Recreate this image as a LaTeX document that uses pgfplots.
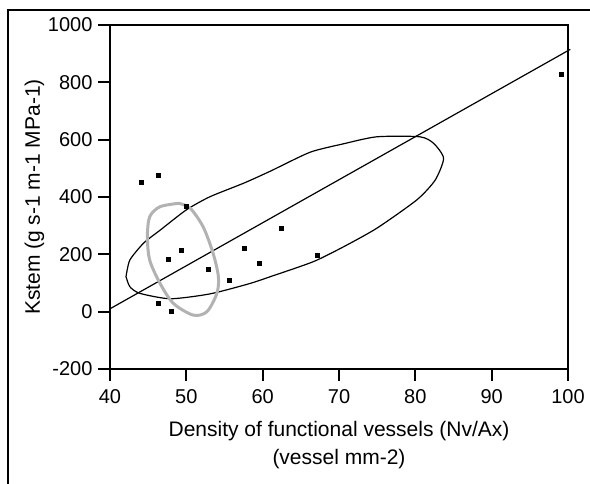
\documentclass[border=0pt]{standalone}
\usepackage{pgfplots}
\pgfplotsset{compat=1.18}
\usepackage{fontspec}
\setmainfont{Liberation Sans}

\begin{document}
\begin{tikzpicture}[x=1bp,y=1bp]
\path[use as bounding box] (0,0) rectangle (590,484);
% outer frame (only left and top are inside the picture)
\draw[line width=2bp] (8,-5) -- (8,474) -- (590,474);
\begin{axis}[
  at={(110bp,115bp)}, anchor=south west,
  scale only axis, width=458bp, height=344bp,
  xmin=40, xmax=100, ymin=-200, ymax=1000,
  xtick={40,50,...,100}, ytick={-200,0,...,1000},
  tick pos=left, tick align=outside,
  major tick length=12bp,
  axis line style={line width=2bp},
  every tick/.style={black, line width=2bp},
  /pgf/number format/assume math mode=true,
  /pgf/number format/1000 sep={},
  tick label style={font=\fontsize{20bp}{23bp}\selectfont},
  xticklabel style={yshift=-5bp},
  yticklabel style={xshift=-2bp},
  label style={font=\fontsize{21bp}{28bp}\selectfont},
  xlabel={Density of functional vessels (Nv/Ax)\\(vessel mm-2)},
  xlabel style={align=center, yshift=-11bp},
  ylabel={Kstem (g s-1 m-1 MPa-1)},
  ylabel style={yshift=-3bp},
  clip=false,
]
% confidence ellipse
\addplot[black, line width=1.2bp, smooth, tension=0.4] coordinates {
  (42.1,122) (42.6,180) (44.4,239) (46.6,285) (50.0,355) (53.1,401)
  (57.5,448) (61.0,490) (66.2,556) (70.5,585) (74.95,610) (80.6,610)
  (82.4,587) (83.7,535) (82.6,459) (80.2,390) (74.95,291) (70.5,225)
  (66.6,174) (61.0,122) (58.3,98) (53.1,62) (47.9,45) (43.9,64)
  (42.6,87) (42.1,122)
};
% regression line
\addplot[black, line width=1.2bp] coordinates {(40,10) (100.3,915)};
% hand-drawn grey loop
\addplot[gray!60, line width=3bp, smooth, tension=0.5] coordinates {
  (49.0,378) (46.55,366) (45.2,331) (44.9,262) (45.2,180) (46.55,99)
  (48.3,29) (50.9,-12) (52.7,0) (54.0,64) (54.2,122) (53.5,204)
  (52.2,296) (50.5,361) (49.0,378)
};
% data
\addplot[only marks, mark=square*, mark size=2bp, mark options={black}] coordinates {
  (44.1,450) (46.3,477) (50.0,369) (46.3,29) (48.0,2) (47.6,183)
  (49.3,215) (52.8,149) (55.6,109) (57.6,223) (59.6,169) (62.4,290)
  (67.2,197) (99.1,829)
};
\end{axis}
\end{tikzpicture}
\end{document}
